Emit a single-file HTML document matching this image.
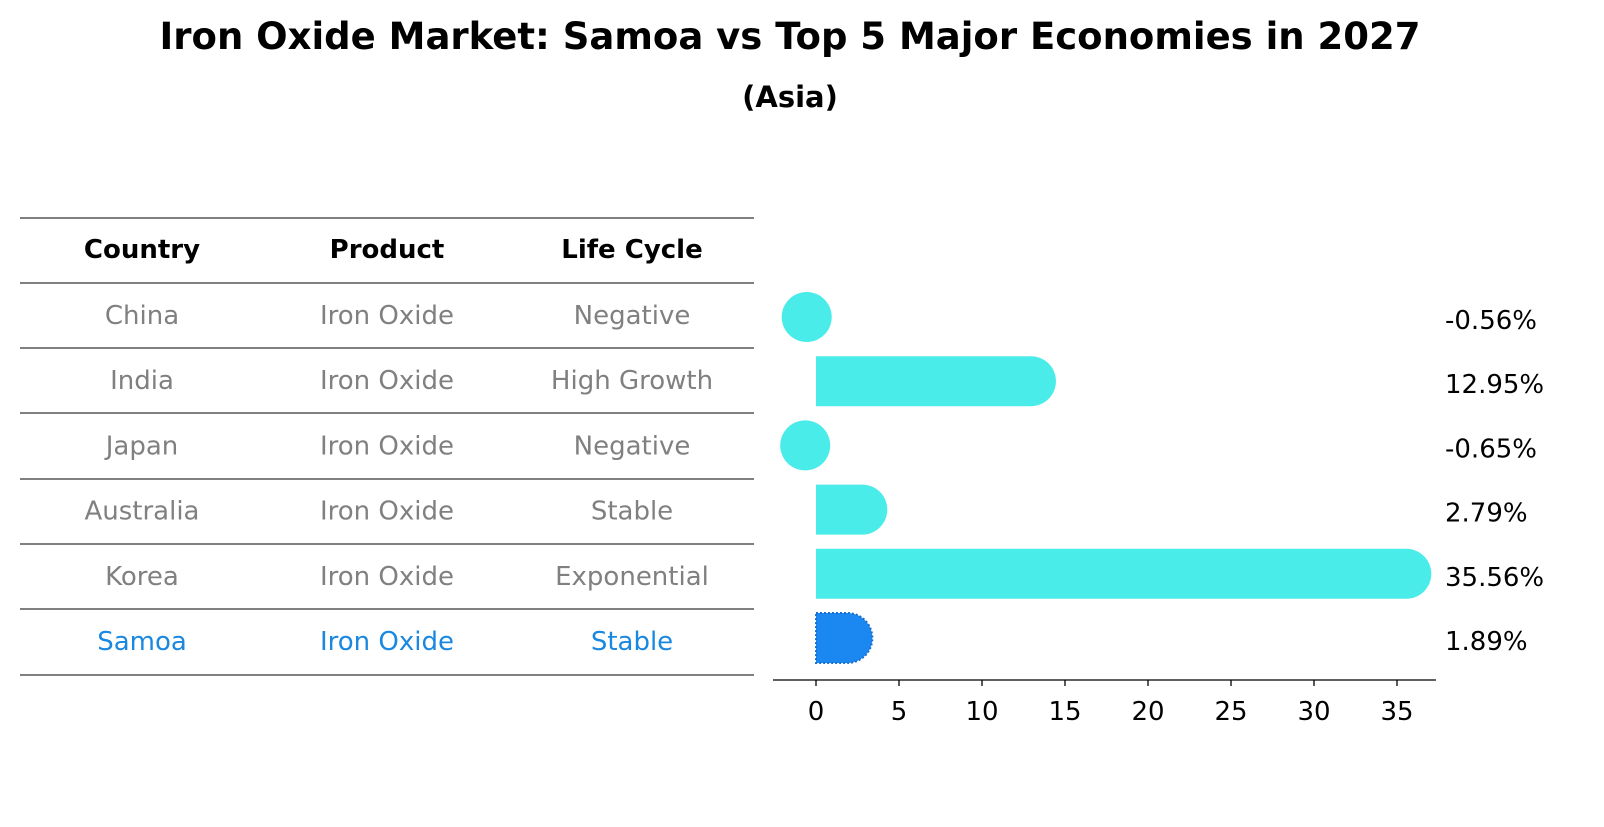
<!DOCTYPE html>
<html><head><meta charset="utf-8"><style>
body{margin:0;background:#fff;font-family:"DejaVu Sans","Liberation Sans",sans-serif;}
</style></head><body>
<svg width="1604" height="823" xmlns="http://www.w3.org/2000/svg" font-family="DejaVu Sans, Liberation Sans, sans-serif">
<text x="790" y="49" text-anchor="middle" font-size="37" font-weight="bold">Iron Oxide Market: Samoa vs Top 5 Major Economies in 2027</text>
<text x="790" y="107" text-anchor="middle" font-size="29" font-weight="bold">(Asia)</text>
<g id="table"></g>
<g id="bars"></g>
<g id="axis"></g>
</svg>
<script>
const countries=["China","India","Japan","Australia","Korea","Samoa"];
const products=["Iron Oxide","Iron Oxide","Iron Oxide","Iron Oxide","Iron Oxide","Iron Oxide"];
const lifecycles=["Negative","High Growth","Negative","Stable","Exponential","Stable"];
const values=[-0.56,12.95,-0.65,2.79,35.56,1.89];
const ticks=[0,5,10,15,20,25,30,35];
const NS="http://www.w3.org/2000/svg";
function mk(t,a,p){const e=document.createElementNS(NS,t);for(const k in a)e.setAttribute(k,a[k]);p.appendChild(e);return e;}
const x=v=>816+v*16.6;
const tbl=document.getElementById('table');
const lines=[218,283,348,413,479,544,609,675];
lines.forEach((ly)=>{const l=mk('line',{x1:20,x2:754,y1:ly,y2:ly,stroke:'#000','stroke-width':1},tbl);

});
const cols=[142,387,632];
["Country","Product","Life Cycle"].forEach((h,j)=>{const t=mk('text',{x:cols[j],y:258,'text-anchor':'middle','font-size':26,'font-weight':'bold'},tbl);t.textContent=h;

});
countries.forEach((c,i)=>{const col=i==5?'#1a88e0':'#808080';
[c,products[i],lifecycles[i]].forEach((s,j)=>{const t=mk('text',{x:cols[j],y:324+i*65.2,'text-anchor':'middle','font-size':26,fill:col},tbl);t.textContent=s;

});});
const bars=document.getElementById('bars');const r=25;
values.forEach((v,i)=>{const y=317+i*64.2;const col=i==5?'#1a88f0':'#4aecea';let e;
if(v<0){e=mk('circle',{cx:x(v),cy:y,r:r,fill:col},bars);}
else{const xe=x(v);e=mk('path',{d:`M${x(0)},${y-r} L${xe},${y-r} A${r},${r} 0 0 1 ${xe},${y+r} L${x(0)},${y+r} Z`,fill:col},bars);
if(i==5){e.setAttribute('stroke','#1a70d0');e.setAttribute('stroke-dasharray','2,2');e.setAttribute('stroke-width','2');}}


const t=mk('text',{x:1445,y:y+12,'font-size':26},bars);t.textContent=v.toFixed(2)+'%';

});
const ax=document.getElementById('axis');
const al=mk('line',{x1:773,x2:1436,y1:680,y2:680,stroke:'#000','stroke-width':1.3},ax);


ticks.forEach(tk=>{const l=mk('line',{x1:x(tk),x2:x(tk),y1:680,y2:686,stroke:'#000','stroke-width':1.3},ax);


const t=mk('text',{x:x(tk),y:720,'text-anchor':'middle','font-size':26},ax);t.textContent=tk;

});
</script>
</body></html>
